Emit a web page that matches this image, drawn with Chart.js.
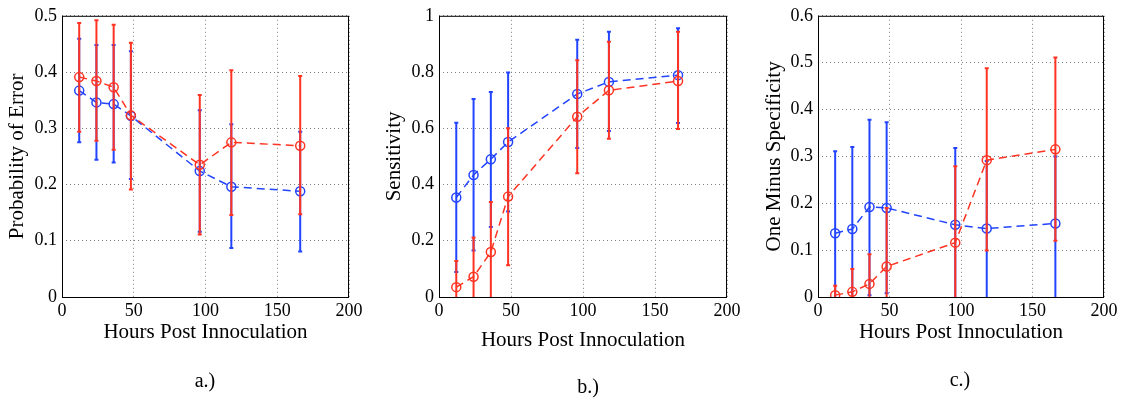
<!DOCTYPE html>
<html>
<head>
<meta charset="utf-8">
<script src="https://cdn.jsdelivr.net/npm/chart.js@4.4.1/dist/chart.umd.min.js"></script>
<style>
  body { margin: 0; background: #fff; }
  #wrap { position: relative; width: 1130px; height: 400px; }
  canvas { position: absolute; top: 0; }
  .cap { position: absolute; font: 20px "Liberation Serif", serif; color: #000; transform: translate(-50%, -50%); }
</style>
</head>
<body>
<div id="wrap">
  <canvas id="chartA" width="377" height="400" style="left:0px"></canvas>
  <canvas id="chartB" width="377" height="400" style="left:377px"></canvas>
  <canvas id="chartC" width="376" height="400" style="left:754px"></canvas>
  <div class="cap" style="left:205px; top:380px">a.)</div>
  <div class="cap" style="left:588px; top:386px">b.)</div>
  <div class="cap" style="left:960px; top:379px">c.)</div>
</div>
<script>
const hours = [12, 24, 36, 48, 96, 118, 166];

// a.) probability of error
const errBlue   = [0.367, 0.346, 0.343, 0.322, 0.224, 0.196, 0.188];
const errBlueLo = [0.275, 0.244, 0.239, 0.210, 0.116, 0.087, 0.081];
const errBlueHi = [0.459, 0.448, 0.448, 0.437, 0.332, 0.307, 0.294];
const errRed    = [0.391, 0.384, 0.373, 0.323, 0.235, 0.275, 0.269];
const errRedLo  = [0.294, 0.278, 0.262, 0.191, 0.111, 0.146, 0.147];
const errRedHi  = [0.487, 0.492, 0.484, 0.452, 0.359, 0.403, 0.393];

// b.) sensitivity
const sensBlue   = [0.354, 0.434, 0.490, 0.551, 0.722, 0.765, 0.789];
const sensBlueLo = [0.089, 0.165, 0.249, 0.304, 0.530, 0.590, 0.619];
const sensBlueHi = [0.620, 0.704, 0.729, 0.798, 0.915, 0.943, 0.956];
const sensRed    = [0.035, 0.072, 0.160, 0.357, 0.641, 0.735, 0.768];
const sensRedLo  = [-0.06, -0.07, -0.02, 0.113, 0.440, 0.563, 0.597];
const sensRedHi  = [0.128, 0.212, 0.338, 0.600, 0.842, 0.908, 0.943];

// c.) one minus specificity
const specBlue   = [0.136, 0.145, 0.192, 0.190, 0.154, 0.146, 0.157];
const specBlueLo = [-0.04, -0.03, 0.004, 0.008, -0.01, -0.01, -0.01];
const specBlueHi = [0.311, 0.320, 0.378, 0.373, 0.318, 0.290, 0.300];
const specRed    = [0.004, 0.011, 0.028, 0.065, 0.116, 0.292, 0.315];
const specRedLo  = [-0.02, -0.04, -0.03, -0.06, -0.05, 0.099, 0.120];
const specRedHi  = [0.024, 0.060, 0.091, 0.190, 0.279, 0.488, 0.511];

const BLUE = '#2244ff';
const RED = '#ff3322';
const SERIF = '"Liberation Serif", "Times New Roman", serif';

// draws the error bars of a dataset right after its line
const errorBars = {
    id: 'errorBars',
    afterDatasetDraw(chart, args) {
        const ds = chart.data.datasets[args.index];
        if (!ds.errLo) return;
        const { ctx, chartArea } = chart;
        const xs = chart.scales.x, ys = chart.scales.y;
        ctx.save();
        ctx.beginPath();
        ctx.rect(chartArea.left, chartArea.top, chartArea.right - chartArea.left, chartArea.bottom - chartArea.top);
        ctx.clip();
        ctx.strokeStyle = ds.borderColor;
        ctx.lineWidth = 2;
        ds.data.forEach((p, i) => {
            const x = xs.getPixelForValue(p.x);
            const y1 = ys.getPixelForValue(ds.errLo[i]);
            const y2 = ys.getPixelForValue(ds.errHi[i]);
            ctx.beginPath();
            ctx.moveTo(x, y1); ctx.lineTo(x, y2);
            ctx.moveTo(x - 2, y1); ctx.lineTo(x + 2, y1);
            ctx.moveTo(x - 2, y2); ctx.lineTo(x + 2, y2);
            ctx.stroke();
        });
        ctx.restore();
    }
};

const boxFrame = {
    id: 'boxFrame',
    afterDraw(chart) {
        const { ctx, chartArea: a } = chart;
        ctx.save();
        ctx.strokeStyle = '#000';
        ctx.lineWidth = 1;
        ctx.strokeRect(a.left + 0.5, a.top + 0.5, a.right - a.left - 1, a.bottom - a.top);
        ctx.restore();
    }
};

function series(vals, lo, hi, color) {
    return {
        data: hours.map((h, i) => ({ x: h, y: vals[i] })),
        errLo: lo,
        errHi: hi,
        borderColor: color,
        backgroundColor: 'rgba(0,0,0,0)',
        borderWidth: 1.5,
        borderDash: [8, 5],
        pointRadius: 4.5,
        pointBorderWidth: 1.5,
        pointBorderColor: color,
        pointBackgroundColor: 'rgba(0,0,0,0)',
        tension: 0
    };
}

function makePanel(id, opts) {
    return new Chart(document.getElementById(id), {
        type: 'line',
        data: {
            datasets: [
                series(opts.red, opts.redLo, opts.redHi, RED),
                series(opts.blue, opts.blueLo, opts.blueHi, BLUE)
            ]
        },
        plugins: [errorBars, boxFrame],
        options: {
            responsive: false,
            animation: false,
            layout: { padding: { top: 10, right: opts.padRight, left: 0, bottom: 0 } },
            plugins: { legend: { display: false }, tooltip: { enabled: false } },
            scales: {
                x: {
                    type: 'linear', min: 0, max: 200,
                    afterFit: s => { s.height = 103; },
                    ticks: { stepSize: 50, color: '#000', padding: 3, font: { family: SERIF, size: 18 } },
                    grid: { color: '#808080', drawTicks: false },
                    border: { display: false, dash: [1, 3] },
                    title: {
                        display: true, text: 'Hours Post Innoculation', color: '#000',
                        font: { family: SERIF, size: 21 },
                        padding: { top: 0, bottom: opts.xTitlePad }
                    }
                },
                y: {
                    type: 'linear', min: 0, max: opts.yMax,
                    afterFit: s => { s.width = opts.yWidth; },
                    ticks: {
                        stepSize: opts.yStep, color: '#000', padding: 5,
                        font: { family: SERIF, size: 18 },
                        callback: v => String(Math.round(v * 10) / 10)
                    },
                    grid: { color: '#808080', drawTicks: false },
                    border: { display: false, dash: [1, 3] },
                    title: {
                        display: true, text: opts.yTitle, color: '#000',
                        font: { family: SERIF, size: 21 },
                        padding: { top: opts.yTitlePad, bottom: 0 }
                    }
                }
            }
        }
    });
}

makePanel('chartA', {
    blue: errBlue, blueLo: errBlueLo, blueHi: errBlueHi,
    red: errRed, redLo: errRedLo, redHi: errRedHi,
    yMax: 0.5, yStep: 0.1, yTitle: 'Probability of Error',
    yWidth: 62, padRight: 28, xTitlePad: 55, yTitlePad: 5
});
makePanel('chartB', {
    blue: sensBlue, blueLo: sensBlueLo, blueHi: sensBlueHi,
    red: sensRed, redLo: sensRedLo, redHi: sensRedHi,
    yMax: 1, yStep: 0.2, yTitle: 'Sensitivity',
    yWidth: 62, padRight: 27, xTitlePad: 47, yTitlePad: 5
});
makePanel('chartC', {
    blue: specBlue, blueLo: specBlueLo, blueHi: specBlueHi,
    red: specRed, redLo: specRedLo, redHi: specRedHi,
    yMax: 0.6, yStep: 0.1, yTitle: 'One Minus Specificity',
    yWidth: 64, padRight: 26, xTitlePad: 55, yTitlePad: 8
});
</script>
</body>
</html>
